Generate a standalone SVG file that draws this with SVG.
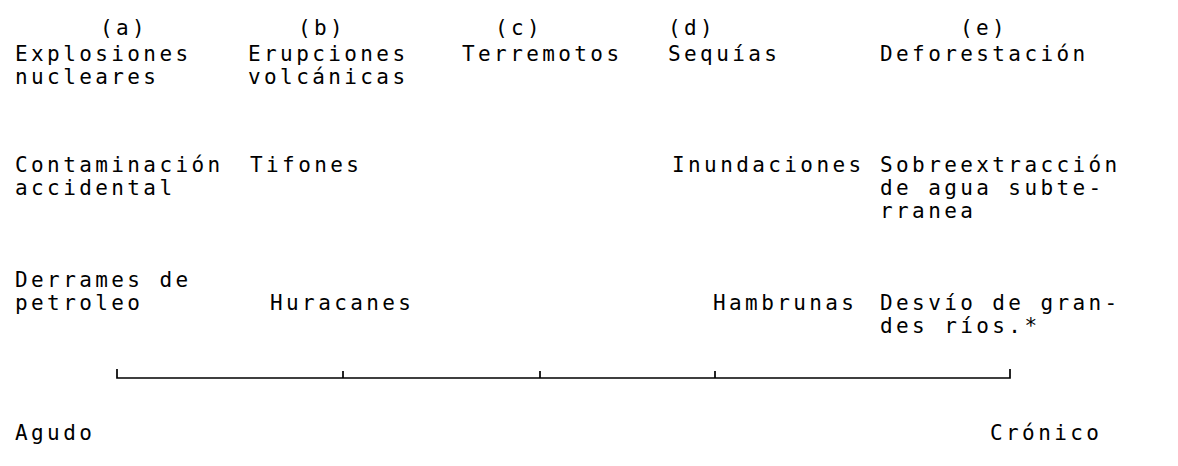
<svg xmlns="http://www.w3.org/2000/svg" width="1178" height="466" viewBox="0 0 1178 466">
<style>
text{font-family:"DejaVu Sans Mono","Liberation Mono",monospace;font-size:21px;letter-spacing:3.4px;fill:#000}
.ax{stroke:#000;stroke-width:1.7;fill:none}
</style>
<rect width="1178" height="466" fill="#fff"/>
<g id="col-a">
<text x="100" y="35">(a)</text>
<text x="15" y="61">Explosiones</text>
<text x="15" y="84">nucleares</text>
<text x="15" y="172">Contaminación</text>
<text x="15" y="195">accidental</text>
<text x="15" y="287">Derrames de</text>
<text x="15" y="310">petroleo</text>
</g>
<g id="col-b">
<text x="298" y="35">(b)</text>
<text x="248" y="61">Erupciones</text>
<text x="248" y="84">volcánicas</text>
<text x="250" y="172">Tifones</text>
<text x="270" y="310">Huracanes</text>
</g>
<g id="col-c">
<text x="495" y="35">(c)</text>
<text x="462" y="61">Terremotos</text>
</g>
<g id="col-d">
<text x="668" y="35">(d)</text>
<text x="668" y="61">Sequías</text>
<text x="672" y="172">Inundaciones</text>
<text x="713" y="310">Hambrunas</text>
</g>
<g id="col-e">
<text x="960" y="35">(e)</text>
<text x="880" y="61">Deforestación</text>
<text x="880" y="172">Sobreextracción</text>
<text x="880" y="195">de agua subte-</text>
<text x="880" y="218">rranea</text>
<text x="880" y="310">Desvío de gran-</text>
<text x="880" y="333">des ríos.*</text>
</g>
<g id="connectors">
<path class="ax" d="M117,369 V378 H1010 V369"/>
<path class="ax" d="M343,371 V378 M540,371 V378 M715,371 V378"/>
</g>
<g id="scale-labels">
<text x="15" y="440">Agudo</text>
<text x="990" y="440">Crónico</text>
</g>
</svg>
